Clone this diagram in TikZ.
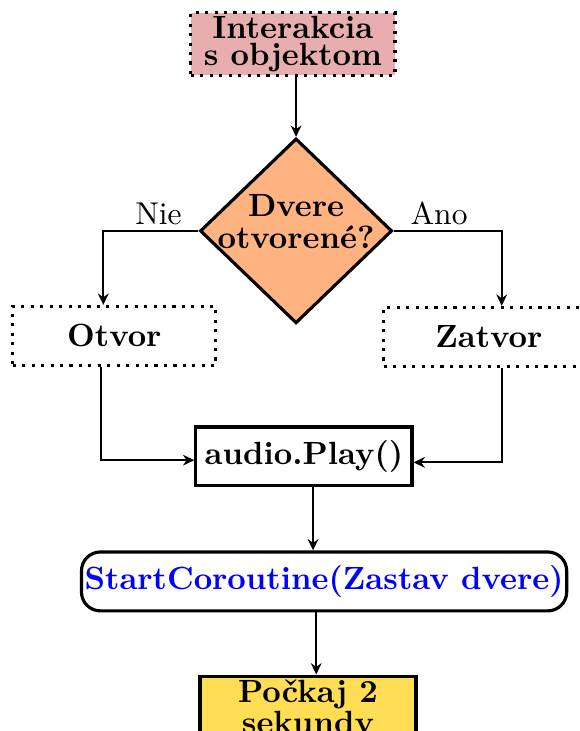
\documentclass[tikz,border=0pt]{standalone}
\usepackage{fontspec}
\usetikzlibrary{arrows.meta, positioning, shapes.geometric}
\definecolor{doorpink}{HTML}{E8AEAF}
\definecolor{doororange}{HTML}{FFB380}
\definecolor{dooryellow}{HTML}{FFDD55}
\tikzset{
  >={Stealth[length=3.6pt, width=3.4pt]},
  box/.style={rectangle, draw=black, line width=1pt, fill=white, align=center,
              inner sep=1pt, minimum height=18.7pt,
              font=\bfseries\fontsize{10.2}{8.8}\selectfont},
  boxd/.style={box, dotted},
  boxp/.style={boxd, fill=doorpink, minimum width=64.8pt},
  boxr/.style={box, rounded corners=6pt, text=blue, minimum width=154pt},
  boxy/.style={box, fill=dooryellow, minimum width=68.6pt, text depth=6pt},
  decision/.style={diamond, draw=black, line width=1pt, fill=doororange,
                   minimum width=61pt, minimum height=58.7pt, inner sep=0pt},
  qtext/.style={align=center, inner sep=0pt, yshift=2.9pt,
                font=\bfseries\fontsize{10.2}{10.2}\selectfont},
  flow/.style={->, line width=0.6pt, draw=black},
  lbl/.style={font=\normalsize, inner sep=1.5pt},
}

\begin{document}
\begin{tikzpicture}
  \clip (-93.0pt,14.0pt) rectangle (91.1pt,-218.1pt);
  \node[boxp] (inter) {Interakcia\\s objektom};
  \node[decision, below=19.0pt of inter, xshift=1pt,
        label={[qtext]center:Dvere\\otvorené?}] (q) {};
  \node[boxd, minimum width=64.5pt, below=23.5pt of q.west, xshift=-26.7pt] (otvor) {Otvor};
  \node[boxd, minimum width=66.7pt, below=23.8pt of q.east, xshift=30.2pt] (zatvor) {Zatvor};
  \node[box, minimum width=68.6pt, below=31.9pt of q, xshift=2.5pt] (audio) {audio.Play()};
  \node[boxr, below=20.0pt of audio, xshift=6.4pt] (co) {StartCoroutine(Zastav dvere)};
  \node[boxy, below=19.7pt of co, xshift=-5.1pt] (wait) {Počkaj 2\\sekundy};
  % connectors
  \draw[flow] (q.north |- inter.south) -- (q.north);
  \draw[flow] (q.west) -| node[lbl, pos=0.21, above] {Nie} ([xshift=-3.5pt]otvor.north);
  \draw[flow] (q.east) -| node[lbl, pos=0.21, above] {Ano} ([xshift=4.1pt]zatvor.north);
  \draw[flow] ([xshift=-4.1pt]otvor.south) |- ([yshift=-1.2pt]audio.west);
  \draw[flow] ([xshift=4.1pt]zatvor.south) |- ([yshift=-1.9pt]audio.east);
  \draw[flow] ([xshift=2.9pt]audio.south) -- ([xshift=2.9pt]audio.south |- co.north);
  \draw[flow] ([xshift=-2.5pt]co.south) -- ([xshift=-2.5pt]co.south |- wait.north);
\end{tikzpicture}
\end{document}
